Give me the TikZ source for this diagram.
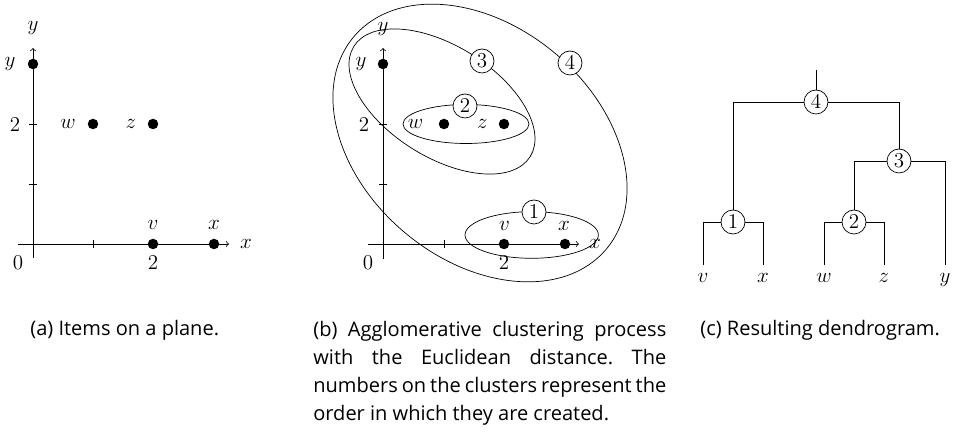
\documentclass[tikz,border=0pt]{standalone}
\usepackage{fontspec}
\setmainfont{Open Sans}
\frenchspacing
\begin{document}
\begin{tikzpicture}[x=0.02cm,y=-0.02cm,
  dot/.style={circle,fill=black,inner sep=0pt,minimum size=0.21cm},
  num/.style={circle,draw,fill=white,inner sep=0pt,minimum size=0.48cm,font=\fontsize{12}{14}\selectfont},
  lab/.style={anchor=base,inner sep=0pt,font=\fontsize{13}{14}\selectfont},
  captxt/.style={anchor=base west,inner sep=0pt,font=\fontsize{11.4}{16}\selectfont},
  axisline/.style={->},
  clus/.style={draw}]
\useasboundingbox (0,0) rectangle (958,435);

% ---------- panel (a)
\coordinate (ax0) at (18,244); \coordinate (ax1) at (229,244);
\coordinate (ay0) at (33,258); \coordinate (ay1) at (33,48);
\draw[axisline] (ax0) -- (ax1);
\draw[axisline] (ay0) -- (ay1);
\draw (93,240) -- (93,248);
\draw (29,184) -- (37,184);
\draw (29,124) -- (37,124);
\node[dot] (ay) at (33,64) {};
\node[dot] (aw) at (93,124) {};
\node[dot] (az) at (153,124) {};
\node[dot] (av) at (153,244) {};
\node[dot] (axp) at (214,244) {};
\node[lab] (aylab) at (33,31) {$y$};
\node[lab] (axlab) at (246,249) {$x$};
\node[lab] (a0) at (18,270) {$0$};
\node[lab] (a2x) at (153,270) {$2$};
\node[lab] (a2y) at (15,132) {$2$};
\node[lab] (ayl) at (10,67) {$y$};
\node[lab] (awl) at (68,128.5) {$w$};
\node[lab] (azl) at (131,128.5) {$z$};
\node[lab] (avl) at (153,230) {$v$};
\node[lab] (axl) at (214,230) {$x$};

% ---------- panel (b)
\coordinate (bx0) at (368,244); \coordinate (bx1) at (579,244);
\coordinate (by0) at (383,259); \coordinate (by1) at (383,48);
\draw[axisline] (bx0) -- (bx1);
\draw[axisline] (by0) -- (by1);
\draw (444,240) -- (444,248);
\draw (379,184) -- (387,184);
\draw (379,124) -- (387,124);
\coordinate (c1) at (531.7,235);
\coordinate (c2) at (466,124);
\coordinate (c3) at (442,101.5);
\coordinate (c4) at (480,143);
\draw[clus] (c1) ellipse [x radius=1.334cm, y radius=0.466cm];
\draw[clus] (c2) ellipse [x radius=1.26cm, y radius=0.39cm];
\draw[clus, rotate around={-32:(c3)}] (c3) ellipse [x radius=2.08cm, y radius=1.114cm];
\draw[clus, rotate around={-40:(c4)}] (c4) ellipse [x radius=3.3cm, y radius=2.34cm];
\node[dot] (by) at (383,64) {};
\node[dot] (bw) at (444,124) {};
\node[dot] (bz) at (504,124) {};
\node[dot] (bv) at (504,244) {};
\node[dot] (bxp) at (565,244) {};
\node[lab] (bylab) at (383,32) {$y$};
\node[lab] (bxlab) at (595,249) {$x$};
\node[lab] (b0) at (368,270) {$0$};
\node[lab] (b2x) at (504,270) {$2$};
\node[lab] (b2y) at (364,132) {$2$};
\node[lab] (byl) at (361,67) {$y$};
\node[lab] (bwl) at (415.6,128.5) {$w$};
\node[lab] (bzl) at (482.5,128.5) {$z$};
\node[lab] (bvl) at (504.5,231) {$v$};
\node[lab] (bxl) at (564,231) {$x$};
\node[num] (k1) at (534,212) {$1$};
\node[num] (k2) at (465,106) {$2$};
\node[num] (k3) at (482,61) {$3$};
\node[num] (k4) at (570,63) {$4$};

% ---------- panel (c)
\node[lab] (lv) at (703,283) {$v$};
\node[lab] (lx) at (763,283) {$x$};
\node[lab] (lw) at (824,283) {$w$};
\node[lab] (lz) at (884,283) {$z$};
\node[lab] (ly) at (945,283) {$y$};
\coordinate (tv) at (703,265);
\coordinate (tx) at (763,265);
\coordinate (tw) at (824,265);
\coordinate (tz) at (884,265);
\coordinate (ty) at (945,265);
\node[num] (n1) at (733,222) {$1$};
\node[num] (n2) at (854,222) {$2$};
\node[num] (n3) at (899,161) {$3$};
\node[num] (n4) at (816,102) {$4$};
\coordinate (root) at (816,70);
\draw (tv) |- (n1) -| (tx);
\draw (tw) |- (n2) -| (tz);
\draw (n2) |- (n3) -| (ty);
\draw (n1) |- (n4) -| (n3);
\draw (n4) -- (root);

% ---------- captions
\node[captxt] (capa) at (30,336) {(a) Items on a plane.};
\node[captxt, align=left] (capb) at (313,421) {\makebox[7.06cm][s]{(b) Agglomerative clustering process}\\
\makebox[7.06cm][s]{with the Euclidean distance. The}\\
\makebox[7.06cm][s]{numbers on the clusters represent the}\\
order in which they are created.};
\node[captxt] (capc) at (700,336) {(c) Resulting dendrogram.};
\end{tikzpicture}
\end{document}
